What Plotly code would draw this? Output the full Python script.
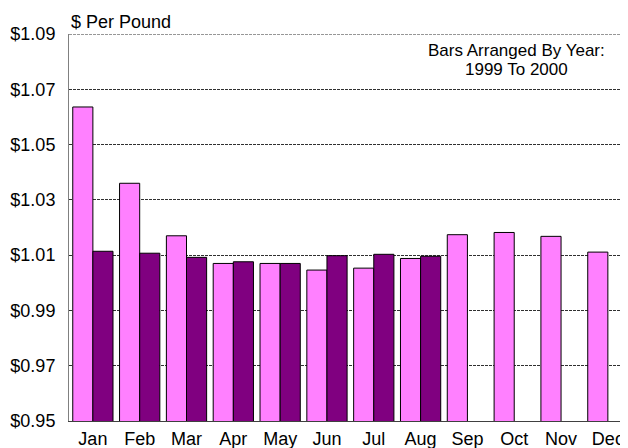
import plotly.graph_objects as go

months = ["Jan", "Feb", "Mar", "Apr", "May", "Jun", "Jul", "Aug", "Sep", "Oct", "Nov", "Dec"]
price_1999 = [1.0636, 1.0360, 1.0170, 1.0070, 1.0070, 1.0046, 1.0053, 1.0088, 1.0174, 1.0182, 1.0168, 1.0111]
price_2000 = [1.0114, 1.0107, 1.0092, 1.0076, 1.0070, 1.0098, 1.0103, 1.0096, None, None, None, None]
y_ticks = [0.95, 0.97, 0.99, 1.01, 1.03, 1.05, 1.07, 1.09]
y_tick_text = ["$%.2f" % v for v in y_ticks]

FONT = "Liberation Sans, Arial, sans-serif"

fig = go.Figure()
fig.add_trace(go.Bar(x=months, y=price_1999, name="1999", base=0,
                     marker=dict(color="#FF80FF", line=dict(color="#000000", width=1))))
fig.add_trace(go.Bar(x=months, y=price_2000, name="2000", base=0,
                     marker=dict(color="#800080", line=dict(color="#000000", width=1))))

# page body has an 8px margin, so the figure is sized/offset to compensate
fig.update_layout(
    width=620, height=440,
    margin=dict(l=61, r=0, t=26, b=27),
    paper_bgcolor="white", plot_bgcolor="white",
    barmode="group", bargap=0.14, bargroupgap=0,
    showlegend=False,
    font=dict(family=FONT, size=18, color="black"),
)
fig.update_xaxes(
    type="category", range=[-0.51, 11.43],
    showline=True, linecolor="#404040", linewidth=1,
    showgrid=False, ticks="", tickfont=dict(size=18), automargin=False,
    ticklabelstandoff=1,
)
fig.update_yaxes(
    range=[y_ticks[0], y_ticks[-1]], tickvals=y_ticks, ticktext=y_tick_text,
    showgrid=True, gridcolor="#303030", gridwidth=1, griddash="3px,1px",
    showline=True, linecolor="#808080", linewidth=1,
    ticks="", ticklabelstandoff=9, tickfont=dict(size=18),
    zeroline=False, automargin=False,
)
# top gridline (plotly skips gridlines lying on the plot edge)
fig.add_shape(type="line", xref="paper", yref="y", x0=0, x1=1,
              y0=y_ticks[-1], y1=y_ticks[-1],
              line=dict(color="#303030", width=1, dash="3px,1px"), layer="below")
fig.add_annotation(text="$ Per Pound", xref="paper", yref="paper", x=0, y=1,
                   xanchor="left", yanchor="bottom", yshift=0, showarrow=False,
                   font=dict(size=18))
fig.add_annotation(text="Bars Arranged By Year:", xref="paper", yref="paper", x=0.80, y=1,
                   xanchor="center", yanchor="top", yshift=-5, showarrow=False,
                   font=dict(size=17))
fig.add_annotation(text="1999 To 2000", xref="paper", yref="paper", x=0.80, y=1,
                   xanchor="center", yanchor="top", yshift=-24, showarrow=False,
                   font=dict(size=17))

fig.write_html("out.html")
